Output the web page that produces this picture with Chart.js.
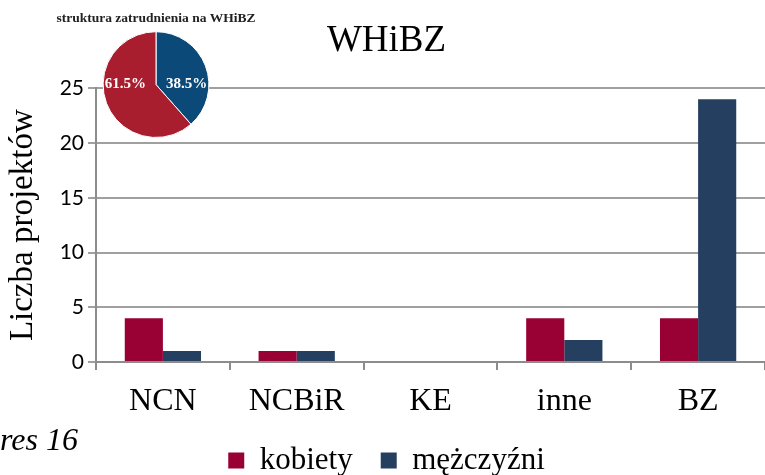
<!DOCTYPE html>
<html>
<head>
<meta charset="utf-8">
<script src="https://cdn.jsdelivr.net/npm/chart.js@4"></script>
<style>
  body { margin: 0; background: #fff; }
  #wrap { position: relative; width: 765px; height: 475px; overflow: hidden; }
  #myChart { position: absolute; left: 0; top: 0; }
  #pieChart { position: absolute; left: 50px; top: 0; }
  #caption { position: absolute; left: 0; top: 421px; font: italic 32px "Liberation Serif", serif; color: #000; }
</style>
</head>
<body>
<div id="wrap">
  <canvas id="myChart" width="765" height="475"></canvas>
  <canvas id="pieChart" width="212" height="138"></canvas>
  <div id="caption">res 16</div>
</div>
<script>
const categories = ["NCN", "NCBiR", "KE", "inne", "BZ"];
const kobiety = [4, 1, 0, 4, 4];
const mezczyzni = [1, 1, 0, 2, 24];
const yTicks = [0, 5, 10, 15, 20, 25];

const pieLabels = ["mężczyźni", "kobiety"];
const pieValues = [38.5, 61.5];

const serif = '"Liberation Serif", serif';
Chart.defaults.font.family = serif;

const ctx = document.getElementById('myChart');

new Chart(ctx, {
    type: "bar",
    data: {
        labels: categories,
        datasets: [{
            label: "kobiety",
            backgroundColor: "#990033",
            data: kobiety
        }, {
            label: "mężczyźni",
            backgroundColor: "#243f60",
            data: mezczyzni
        }]
    },
    options: {
        responsive: false,
        animation: false,
        categoryPercentage: 0.57,
        barPercentage: 1.0,
        layout: { padding: { left: 8, right: 0, top: 0, bottom: -11 } },
        plugins: {
            legend: {
                position: "bottom",
                labels: {
                    boxWidth: 16,
                    boxHeight: 16,
                    padding: 28,
                    color: "#000",
                    font: { family: serif, size: 31 }
                }
            },
            title: {
                display: true,
                text: "WHiBZ",
                color: "#000",
                font: { family: serif, size: 37, weight: "normal" },
                padding: { top: 19, bottom: 25 }
            },
            tooltip: { enabled: false }
        },
        scales: {
            x: {
                afterFit(s) { s.height = 55; },
                grid: { offset: true, drawOnChartArea: false, tickLength: 8, color: "#8c8c8c", lineWidth: 2 },
                border: { color: "#8c8c8c", width: 2 },
                ticks: { color: "#000", padding: 12, font: { family: serif, size: 32 } }
            },
            y: {
                min: 0,
                max: 25,
                afterFit(s) { s.width = 88; },
                afterBuildTicks(s) { s.ticks = yTicks.map(v => ({ value: v })); },
                grid: { color: "#a0a0a0", lineWidth: 2, tickLength: 8 },
                border: { color: "#8c8c8c", width: 2 },
                ticks: { color: "#000", padding: 4, font: { family: "Lato, sans-serif", size: 21 } },
                title: {
                    display: true,
                    text: "Liczba projektów",
                    color: "#000",
                    font: { family: serif, size: 33 },
                    padding: { top: -4, bottom: 0 }
                }
            }
        }
    }
});

// pie labels drawn from the arc elements
const pieText = {
    id: "pieText",
    afterDatasetsDraw(chart) {
        const c = chart.ctx;
        const meta = chart.getDatasetMeta(0);
        c.save();
        c.fillStyle = "#fff";
        c.font = "bold 15px " + serif;
        c.textAlign = "center";
        c.textBaseline = "middle";
        meta.data.forEach((arc, i) => {
            const mid = (arc.startAngle + arc.endAngle) / 2;
            const dir = Math.cos(mid) >= 0 ? 1 : -1;
            c.fillText(pieValues[i].toFixed(1) + "%", arc.x + dir * 0.58 * arc.outerRadius, arc.y);
        });
        c.restore();
    }
};

new Chart(document.getElementById('pieChart'), {
    type: "pie",
    data: {
        labels: pieLabels,
        datasets: [{
            data: pieValues,
            backgroundColor: ["#0b4a78", "#a81e2e"],
            borderColor: "#fff",
            borderWidth: 1
        }]
    },
    options: {
        responsive: false,
        animation: false,
        layout: { padding: 0 },
        plugins: {
            legend: { display: false },
            tooltip: { enabled: false },
            title: {
                display: true,
                text: "struktura zatrudnienia na WHiBZ",
                color: "#222",
                font: { family: serif, size: 13.5, weight: "bold" },
                padding: { top: 10, bottom: 5 }
            }
        }
    },
    plugins: [pieText]
});
</script>
</body>
</html>
